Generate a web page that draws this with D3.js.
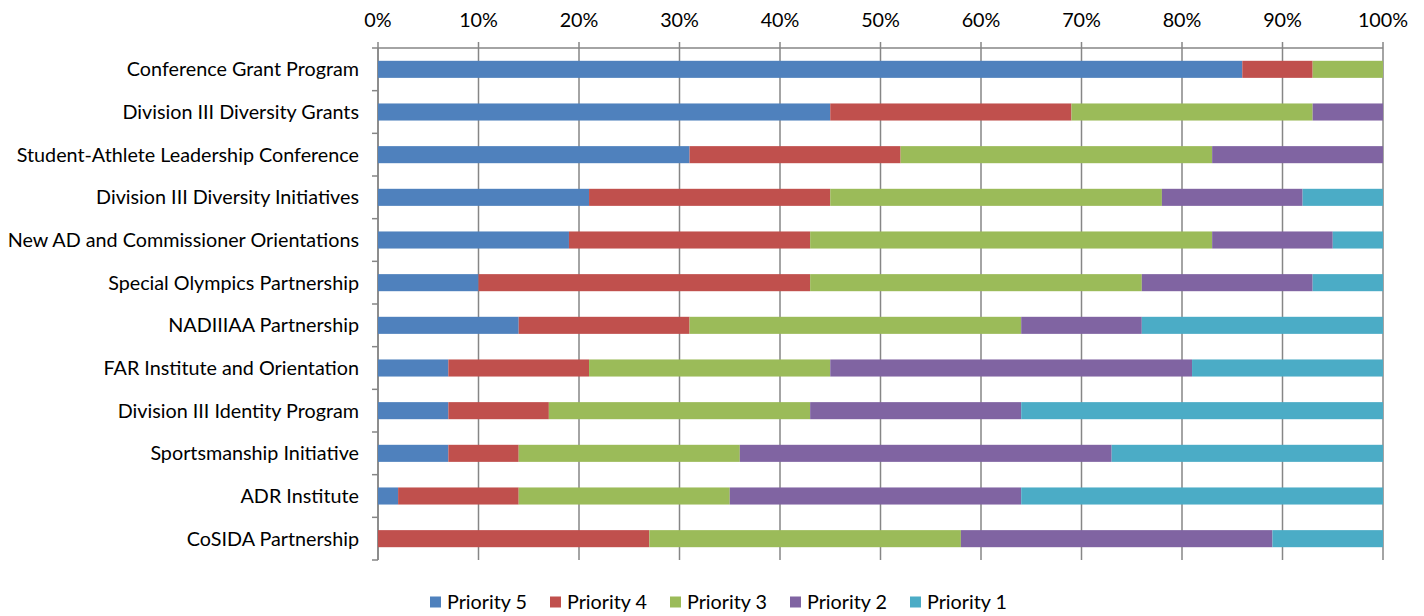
<!DOCTYPE html>
<html>
<head>
<meta charset="utf-8">
<script src="https://cdn.jsdelivr.net/npm/d3@7"></script>
<style>
  body { margin: 0; background: #fff; }
  text { font-family: Lato, "Liberation Sans", sans-serif; fill: #000; }
</style>
</head>
<body>
<div id="chart"></div>
<script>
/*Data*/
var programs = ["Conference Grant Program", "Division III Diversity Grants", "Student-Athlete Leadership Conference",
  "Division III Diversity Initiatives", "New AD and Commissioner Orientations", "Special Olympics Partnership",
  "NADIIIAA Partnership", "FAR Institute and Orientation", "Division III Identity Program",
  "Sportsmanship Initiative", "ADR Institute", "CoSIDA Partnership"];
var seriesNames = ["Priority 5", "Priority 4", "Priority 3", "Priority 2", "Priority 1"];
var colors = ["#4f81bd", "#c0504d", "#9bbb59", "#8064a2", "#4bacc6"];
var priority5 = [86, 45, 31, 21, 19, 10, 14, 7, 7, 7, 2, 0];
var priority4 = [7, 24, 21, 24, 24, 33, 17, 14, 10, 7, 12, 27];
var priority3 = [7, 24, 31, 33, 40, 33, 33, 24, 26, 22, 21, 31];
var priority2 = [0, 7, 17, 14, 12, 17, 12, 36, 21, 37, 29, 31];
var priority1 = [0, 0, 0, 8, 5, 7, 24, 19, 36, 27, 36, 11];
var tickValues = [0, .1, .2, .3, .4, .5, .6, .7, .8, .9, 1];

/*SVG Size*/
var width = 1424;
var height = 616;
var plotLeft = 378, plotRight = 1383, plotTop = 48, plotBottom = 560;
var fontSize = 19.75;

var svg = d3.select("#chart").append("svg")
  .attr("width", width)
  .attr("height", height);

var rows = programs.map(function(p, i) {
  var vals = [priority5[i], priority4[i], priority3[i], priority2[i], priority1[i]];
  var total = d3.sum(vals);
  var r = { name: p };
  seriesNames.forEach(function(s, j) { r[s] = vals[j] / total; });
  return r;
});

var stack = d3.stack().keys(seriesNames)(rows);

var x = d3.scaleLinear().domain([0, 1]).range([plotLeft, plotRight]);
var y = d3.scaleBand().domain(programs).range([plotTop, plotBottom]).paddingInner(0.6).paddingOuter(0.3);
var yEdge = d3.scaleBand().domain(programs).range([plotTop, plotBottom]);

/*Grid lines*/
svg.append("g").selectAll("line")
  .data(tickValues)
  .enter().append("line")
  .attr("x1", function(d) { return x(d); })
  .attr("x2", function(d) { return x(d); })
  .attr("y1", plotTop - 6)
  .attr("y2", plotBottom)
  .attr("stroke", "#868686")
  .attr("stroke-width", 1.5);

/*Top axis line*/
svg.append("line")
  .attr("x1", plotLeft).attr("x2", plotRight)
  .attr("y1", plotTop).attr("y2", plotTop)
  .attr("stroke", "#868686").attr("stroke-width", 1.5);

/*Left axis*/
svg.append("line")
  .attr("x1", plotLeft).attr("x2", plotLeft)
  .attr("y1", plotTop).attr("y2", plotBottom)
  .attr("stroke", "#868686").attr("stroke-width", 1.5);

svg.append("g").selectAll("line")
  .data(d3.range(programs.length + 1))
  .enter().append("line")
  .attr("x1", plotLeft - 6).attr("x2", plotLeft)
  .attr("y1", function(d) { return plotTop + d * yEdge.step(); })
  .attr("y2", function(d) { return plotTop + d * yEdge.step(); })
  .attr("stroke", "#868686").attr("stroke-width", 1.5);

/*Bars*/
svg.append("g").selectAll("g")
  .data(stack)
  .enter().append("g")
  .attr("fill", function(d, i) { return colors[i]; })
  .selectAll("rect")
  .data(function(d) { return d; })
  .enter().append("rect")
  .attr("x", function(d) { return x(d[0]); })
  .attr("width", function(d) { return x(d[1]) - x(d[0]); })
  .attr("y", function(d) { return y(d.data.name); })
  .attr("height", y.bandwidth());

/*Tick labels*/
svg.append("g").selectAll("text")
  .data(tickValues)
  .enter().append("text")
  .attr("x", function(d) { return x(d); })
  .attr("y", 27)
  .attr("text-anchor", "middle")
  .attr("font-size", fontSize)
  .text(function(d) { return Math.round(d * 100) + "%"; });

/*Category labels*/
svg.append("g").selectAll("text")
  .data(programs)
  .enter().append("text")
  .attr("x", plotLeft - 19)
  .attr("y", function(d) { return yEdge(d) + yEdge.bandwidth() / 2; })
  .attr("dy", "0.35em")
  .attr("text-anchor", "end")
  .attr("font-size", fontSize)
  .text(function(d) { return d; });

/*Legend*/
var legend = svg.append("g").selectAll("g")
  .data(seriesNames)
  .enter().append("g")
  .attr("transform", function(d, i) { return "translate(" + (430 + i * 120) + ",602)"; });

legend.append("rect")
  .attr("x", 0).attr("y", -5.5)
  .attr("width", 11).attr("height", 11)
  .attr("fill", function(d, i) { return colors[i]; });

legend.append("text")
  .attr("x", 17)
  .attr("dy", "0.35em")
  .attr("font-size", fontSize)
  .text(function(d) { return d; });
</script>
</body>
</html>
